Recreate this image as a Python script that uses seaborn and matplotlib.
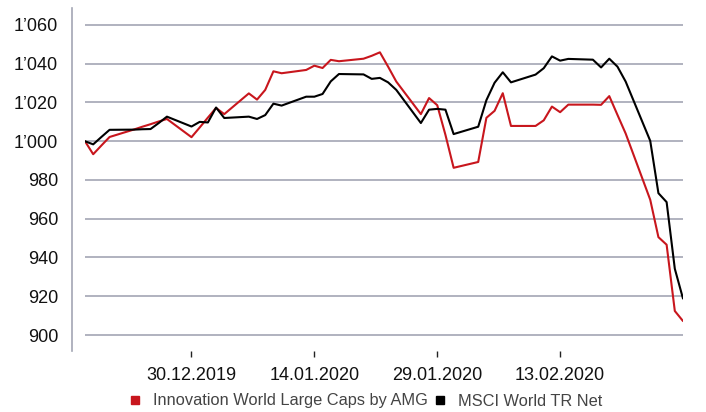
import matplotlib
matplotlib.use('Agg')
import matplotlib.pyplot as plt
import matplotlib.dates as mdates
from matplotlib.lines import Line2D
from matplotlib.ticker import FuncFormatter
import pandas as pd
import seaborn as sns

# trading days shown in the chart
dates = [
    '2019-12-17', '2019-12-18', '2019-12-19', '2019-12-20', '2019-12-23',
    '2019-12-24', '2019-12-25', '2019-12-26', '2019-12-27', '2019-12-30',
    '2019-12-31', '2020-01-01', '2020-01-02', '2020-01-03', '2020-01-06',
    '2020-01-07', '2020-01-08', '2020-01-09', '2020-01-10', '2020-01-13',
    '2020-01-14', '2020-01-15', '2020-01-16', '2020-01-17', '2020-01-20',
    '2020-01-21', '2020-01-22', '2020-01-23', '2020-01-24', '2020-01-27',
    '2020-01-28', '2020-01-29', '2020-01-30', '2020-01-31', '2020-02-03',
    '2020-02-04', '2020-02-05', '2020-02-06', '2020-02-07', '2020-02-10',
    '2020-02-11', '2020-02-12', '2020-02-13', '2020-02-14', '2020-02-17',
    '2020-02-18', '2020-02-19', '2020-02-20', '2020-02-21', '2020-02-24',
    '2020-02-25', '2020-02-26', '2020-02-27', '2020-02-28',
]

amg = [
    1000.0, 993.3, 997.8, 1002.2, 1006.1, 1007.5, 1008.8, 1010.2, 1011.5, 1002.1,
    1007.1, 1012.2, 1017.2, 1014.0, 1024.7, 1021.5, 1026.5, 1036.1, 1035.1, 1036.8,
    1039.0, 1037.8, 1042.0, 1041.3, 1042.6, 1044.1, 1045.9, 1038.5, 1030.8, 1014.0,
    1022.3, 1018.6, 1003.3, 986.3, 989.3, 1012.1, 1015.7, 1024.8, 1007.9, 1007.9,
    1010.8, 1017.9, 1015.0, 1018.9, 1018.9, 1018.8, 1023.3, 1013.6, 1004.0, 969.8,
    950.5, 946.6, 912.4, 907.2,
]

msci = [
    1000.0, 998.4, 1002.2, 1005.9, 1006.0, 1006.2, 1006.3, 1009.4, 1012.7, 1007.6,
    1010.0, 1009.7, 1017.4, 1012.0, 1012.7, 1011.5, 1013.5, 1019.4, 1018.4, 1023.0,
    1023.0, 1024.4, 1030.9, 1034.7, 1034.5, 1032.2, 1032.7, 1030.4, 1026.5, 1009.4,
    1016.3, 1016.7, 1016.3, 1003.7, 1007.5, 1021.2, 1030.2, 1035.6, 1030.4, 1034.4,
    1037.7, 1043.8, 1041.6, 1042.5, 1042.1, 1038.1, 1042.6, 1038.5, 1030.8, 1000.2,
    973.2, 968.6, 934.2, 918.8,
]

series_names = ['Innovation World Large Caps by AMG', 'MSCI World TR Net']
series_colors = ['#c8161d', '#000000']
tick_dates = ['2019-12-30', '2020-01-14', '2020-01-29', '2020-02-13']
y_ticks = [900, 920, 940, 960, 980, 1000, 1020, 1040, 1060]

sns.set_style('white')
plt.rcParams['font.family'] = ['Liberation Sans', 'DejaVu Sans']

df = pd.DataFrame({
    'date': pd.to_datetime(dates + dates),
    'value': amg + msci,
    'series': [series_names[0]] * len(dates) + [series_names[1]] * len(dates),
})

W, H = 706, 412
fig = plt.figure(figsize=(W / 100, H / 100), dpi=100)
ax = fig.add_axes([85 / W, 1 - 351 / H, (683 - 85) / W, (351 - 8) / H])

sns.lineplot(data=df, x='date', y='value', hue='series',
             palette=dict(zip(series_names, series_colors)),
             linewidth=1.5, ax=ax, legend=False)

ax.set_xlim(pd.Timestamp(dates[0]), pd.Timestamp(dates[-1]))
ax.set_ylim(900 - 16 / 1.9375, 1060 + 17 / 1.9375)
ax.set_xlabel('')
ax.set_ylabel('')

# grid and spines
grid_col = '#a3a6b4'
ax.set_yticks(y_ticks)
ax.yaxis.grid(True, color=grid_col, linewidth=1.2)
ax.xaxis.grid(False)
for s in ['top', 'right', 'bottom']:
    ax.spines[s].set_visible(False)
ax.spines['left'].set_position(('outward', 9.4))
ax.spines['left'].set_color(grid_col)
ax.spines['left'].set_linewidth(1.2)

ax.yaxis.set_major_formatter(FuncFormatter(lambda v, p: f'{v:,.0f}'.replace(',', '\u2019')))
ax.tick_params(axis='y', length=0, pad=10, labelsize=13, labelcolor='#111111')

ax.set_xticks(pd.to_datetime(tick_dates))
ax.xaxis.set_major_formatter(mdates.DateFormatter('%d.%m.%Y'))
ax.tick_params(axis='x', bottom=True, length=4.5, width=1, color='#222222',
               pad=7, labelsize=13, labelcolor='#111111')

# legend
handles = [Line2D([], [], linestyle='none', marker='s', markersize=6.2,
                  color=c) for c in series_colors]
fig.legend(handles, series_names, loc='center', bbox_to_anchor=(366 / W, 11 / H),
           ncol=2, frameon=False, fontsize=11.8, handlelength=0.6,
           handletextpad=0.8, columnspacing=0.4, labelcolor='#444444')

fig.savefig('out.png', dpi=100)
plt.close(fig)
